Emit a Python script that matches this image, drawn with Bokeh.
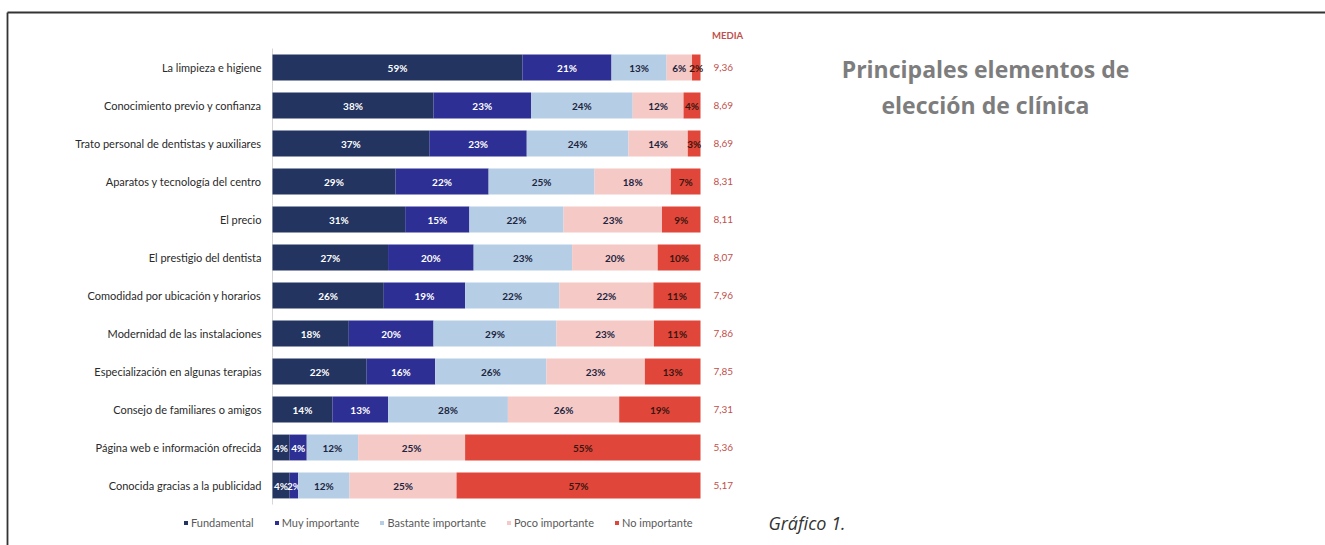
import numpy as np
from bokeh.plotting import figure
from bokeh.models import ColumnDataSource, Range1d, Label, Legend, LegendItem
from bokeh.core.properties import value
from bokeh.embed import file_html
from bokeh.resources import INLINE

categories = [
    "La limpieza e higiene",
    "Conocimiento previo y confianza",
    "Trato personal de dentistas y auxiliares",
    "Aparatos y tecnología del centro",
    "El precio",
    "El prestigio del dentista",
    "Comodidad por ubicación y horarios",
    "Modernidad de las instalaciones",
    "Especialización en algunas terapias",
    "Consejo de familiares o amigos",
    "Página web e información ofrecida",
    "Conocida gracias a la publicidad",
]
series_names = ["Fundamental", "Muy importante", "Bastante importante",
                "Poco importante", "No importante"]
fundamental = [59, 38, 37, 29, 31, 27, 26, 18, 22, 14, 4, 4]
muy_importante = [21, 23, 23, 22, 15, 20, 19, 20, 16, 13, 4, 2]
bastante_importante = [13, 24, 24, 25, 22, 23, 22, 29, 26, 28, 12, 12]
poco_importante = [6, 12, 14, 18, 23, 20, 22, 23, 23, 26, 25, 25]
no_importante = [2, 4, 3, 7, 9, 10, 11, 11, 13, 19, 55, 57]
media = ["9,36", "8,69", "8,69", "8,31", "8,11", "8,07", "7,96", "7,86",
         "7,85", "7,31", "5,36", "5,17"]

colors = ["#22345f", "#2d2f94", "#b6cee5", "#f5c9c6", "#e0473a"]
label_colors = ["#ffffff", "#ffffff", "#1c2540", "#1c2540", "#3a1510"]

series = [fundamental, muy_importante, bastante_importante, poco_importante, no_importante]
vals = np.array(series, dtype=float)
totals = vals.sum(axis=0)
shares = vals / totals * 100.0
rights = np.cumsum(shares, axis=0)
lefts = rights - shares
rows = np.arange(len(categories))

W, H = 1325, 545
BAR_L, BAR_R = 272, 700          # pixel extent of the 0..100 % scale
ROW0, ROW_STEP = 67, 38          # pixel centre of first row, row pitch
ppu = (BAR_R - BAR_L) / 100.0

def dx(px):
    return (px - BAR_L) / ppu

def dy(py):
    return (py - ROW0) / ROW_STEP

p = figure(width=W, height=H, output_backend="svg", toolbar_location=None,
           x_range=Range1d(dx(0), dx(W)), y_range=Range1d(dy(H), dy(0)),
           x_axis_location=None, y_axis_location=None, min_border=0)
p.outline_line_color = None
p.xgrid.visible = False
p.ygrid.visible = False
p.background_fill_color = "white"
p.border_fill_color = "white"

# page frame (top and left edges)
p.segment(x0=[dx(7), dx(7)], y0=[dy(12), dy(12)], x1=[dx(W + 5), dx(7)],
          y1=[dy(12), dy(H + 5)], line_color="#333333", line_width=1.8)

# thin category axis line
p.segment(x0=[0], y0=[rows[0] - 0.5], x1=[0], y1=[rows[-1] + 0.5],
          line_color="#d6d6d6", line_width=1)

items = []
for i, name in enumerate(series_names):
    src = ColumnDataSource(dict(y=rows, left=lefts[i], right=rights[i],
                                mid=(lefts[i] + rights[i]) / 2,
                                txt=[f"{v}%" for v in series[i]]))
    r = p.hbar(y="y", left="left", right="right", height=0.68, source=src,
               fill_color=colors[i], line_color=None)
    items.append(LegendItem(label=name, renderers=[r]))
    p.text(x="mid", y="y", text="txt", source=src, text_align="center",
           text_baseline="middle", text_font=value("Lato"), text_font_style="bold",
           text_font_size="10px", text_color=label_colors[i])

csrc = ColumnDataSource(dict(y=rows, cat=categories, media=media,
                             x0=np.zeros(len(rows)), x1=np.full(len(rows), 100.0)))
p.text(x="x0", y="y", text="cat", source=csrc, x_offset=-11, text_align="right",
       text_baseline="middle", text_font=value("Lato"), text_font_size="11px",
       text_color="#2a2a2a")
p.text(x="x1", y="y", text="media", source=csrc, x_offset=13, text_align="left",
       text_baseline="middle", text_font=value("Lato"), text_font_size="10px",
       text_color="#c0504d")

legend = Legend(items=items, orientation="horizontal", location=(183, 16),
                glyph_width=5, glyph_height=5, label_standoff=3, spacing=20,
                padding=0, margin=0, border_line_color=None,
                background_fill_alpha=0,
                label_text_font="Lato", label_text_font_size="11px",
                label_text_color="#595959")
p.add_layout(legend, "center")

def sy(y):
    return H - y

p.add_layout(Label(x=727, y=sy(35), x_units="screen", y_units="screen",
                   text="MEDIA", text_align="center", text_baseline="middle",
                   text_font="Lato", text_font_size="9.5px", text_font_style="bold",
                   text_color="#c0504d"))
p.add_layout(Label(x=985, y=sy(68), x_units="screen", y_units="screen",
                   text="Principales elementos de", text_align="center",
                   text_baseline="middle", text_font="Open Sans", text_font_style="bold",
                   text_font_size="23px", text_color="#7d7d7d"))
p.add_layout(Label(x=985, y=sy(104), x_units="screen", y_units="screen",
                   text="elección de clínica", text_align="center",
                   text_baseline="middle", text_font="Open Sans", text_font_style="bold",
                   text_font_size="23px", text_color="#7d7d7d"))
p.add_layout(Label(x=768, y=sy(522), x_units="screen", y_units="screen",
                   text="Gráfico 1.", text_align="left", text_baseline="middle",
                   text_font="Open Sans", text_font_style="italic",
                   text_font_size="18px", text_color="#333333"))

open("out.html", "w").write(file_html(p, INLINE))
